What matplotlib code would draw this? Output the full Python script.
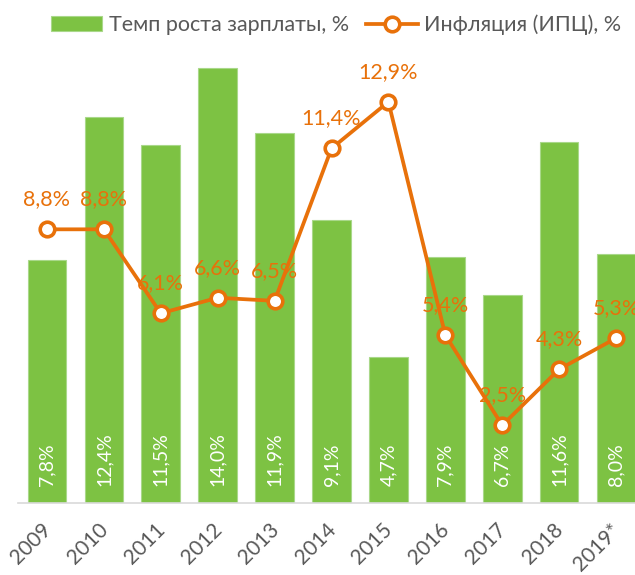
import matplotlib
matplotlib.use("Agg")
import matplotlib.pyplot as plt
import matplotlib.transforms as mtransforms
import numpy as np

plt.rcParams['font.family'] = ['Lato', 'DejaVu Sans']

years = ['2009', '2010', '2011', '2012', '2013', '2014', '2015', '2016', '2017', '2018', '2019*']
wage_growth = [7.8, 12.4, 11.5, 14.0, 11.9, 9.1, 4.7, 7.9, 6.7, 11.6, 8.0]
inflation = [8.8, 8.8, 6.1, 6.6, 6.5, 11.4, 12.9, 5.4, 2.5, 4.3, 5.3]

green = '#7DC243'
orange = '#E8710A'
gray = '#595959'

fig = plt.figure(figsize=(6.35, 5.75), dpi=100)
ax = fig.add_axes([18.5/635, 72/575, 626/635, 466.5/575])
x = np.arange(len(years))

bars = ax.bar(x, wage_growth, width=0.68, color=green, edgecolor='#A9D88A', linewidth=0.8, zorder=2,
              label='Темп роста зарплаты, %')
line, = ax.plot(x, inflation, color=orange, lw=2.7, marker='o', markersize=10.5, markerfacecolor='white',
                markeredgecolor=orange, markeredgewidth=2.6, zorder=3, label='Инфляция (ИПЦ), %')

def fmt(v):
    return f"{v:.1f}%".replace('.', ',')

for xi, v in zip(x, wage_growth):
    ax.annotate(fmt(v), (xi, 0), xytext=(0, 17), textcoords='offset pixels',
                rotation=90, ha='center', va='bottom', color='white', fontsize=14, zorder=4)
for xi, v in zip(x, inflation):
    ax.annotate(fmt(v), (xi, v), xytext=(0, 30), textcoords='offset pixels',
                ha='center', va='center', color=orange, fontsize=15.5, zorder=4)

ax.set_xlim(-0.5, len(years) - 0.5)
ax.set_ylim(0, 15)
ax.set_yticks([])
for s in ['top', 'right', 'left']:
    ax.spines[s].set_visible(False)
ax.spines['bottom'].set_color('#D9D9D9')
ax.spines['bottom'].set_linewidth(1.2)
ax.set_xticks(x)
labels = ax.set_xticklabels(years, rotation=45, ha='right', rotation_mode='anchor', color=gray, fontsize=15)
ax.tick_params(axis='x', length=0, pad=12)
offset = mtransforms.ScaledTranslation(-6/100, 0, fig.dpi_scale_trans)
for lab in labels:
    lab.set_transform(lab.get_transform() + offset)

leg = fig.legend([bars, line], ['Темп роста зарплаты, %', 'Инфляция (ИПЦ), %'],
                 loc='center', bbox_to_anchor=(336/635, 1 - 25/575), ncol=2, frameon=False,
                 fontsize=15.5, labelcolor=gray, handlelength=2.4, columnspacing=0.8, handletextpad=0.3)

fig.savefig('out.png', dpi=100)
